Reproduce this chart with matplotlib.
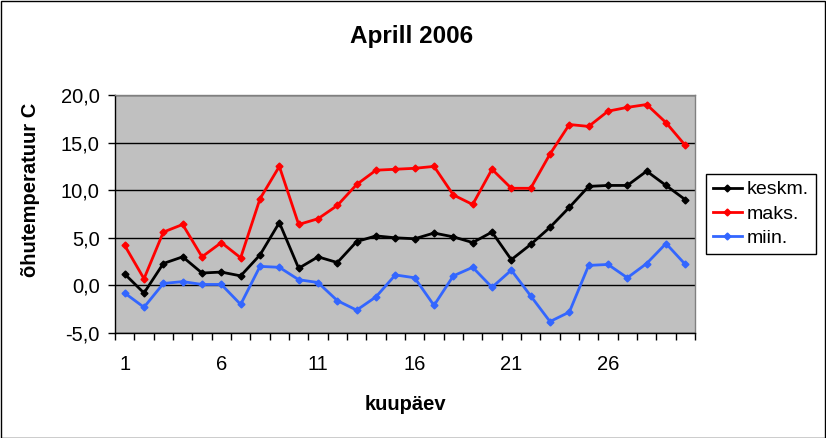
import matplotlib
matplotlib.use("Agg")
import matplotlib.pyplot as plt
from matplotlib.ticker import FixedLocator, NullFormatter, FuncFormatter
from matplotlib.patches import Rectangle

plt.rcParams['font.family'] = ['Liberation Sans', 'DejaVu Sans']

days = list(range(1, 31))
keskm = [1.2, -0.8, 2.3, 3.0, 1.3, 1.4, 1.0, 3.2, 6.6, 1.8, 3.0, 2.4, 4.6, 5.2, 5.0,
         4.9, 5.5, 5.1, 4.5, 5.6, 2.7, 4.3, 6.1, 8.2, 10.4, 10.5, 10.5, 12.0, 10.5, 9.0]
maks = [4.2, 0.7, 5.6, 6.4, 3.0, 4.5, 2.9, 9.1, 12.5, 6.4, 7.0, 8.4, 10.6, 12.1, 12.2,
        12.3, 12.5, 9.5, 8.5, 12.2, 10.2, 10.2, 13.8, 16.9, 16.7, 18.3, 18.7, 19.0, 17.1, 14.7]
miin = [-0.8, -2.3, 0.2, 0.4, 0.1, 0.1, -2.0, 2.0, 1.9, 0.6, 0.3, -1.6, -2.6, -1.2, 1.1,
        0.8, -2.1, 1.0, 1.9, -0.2, 1.6, -1.1, -3.8, -2.8, 2.1, 2.2, 0.8, 2.3, 4.4, 2.2]
series = [("keskm.", keskm, "#000000"), ("maks.", maks, "#FF0000"), ("miin.", miin, "#3366FF")]
yticks = [-5, 0, 5, 10, 15, 20]
xlabels = [1, 6, 11, 16, 21, 26]

fig = plt.figure(figsize=(8.26, 4.38), dpi=100)
W, H = 826, 438
ax = fig.add_axes([115 / W, 1 - 333 / H, 580 / W, 238 / H])
ax.set_facecolor("#C0C0C0")

for name, vals, col in series:
    ax.plot(days, vals, color=col, lw=2, marker="D", ms=3.5, label=name)

ax.set_xlim(0.5, 30.5)
ax.set_ylim(-5, 20)
ax.yaxis.set_major_locator(FixedLocator(yticks))
ax.yaxis.set_major_formatter(FuncFormatter(lambda v, p: f"{v:.1f}".replace(".", ",")))
ax.grid(axis="y", color="black", lw=1)
ax.set_axisbelow(True)

ax.xaxis.set_major_locator(FixedLocator([d + 0.5 for d in range(0, 31)]))
ax.xaxis.set_major_formatter(NullFormatter())
ax.xaxis.set_minor_locator(FixedLocator(xlabels))
ax.xaxis.set_minor_formatter(FuncFormatter(lambda v, p: f"{int(round(v))}"))
ax.tick_params(axis="x", which="major", length=5, width=1, direction="out", color="black")
ax.tick_params(axis="x", which="minor", length=0, labelsize=14.5, pad=16)
ax.tick_params(axis="y", length=5, width=1, direction="out", labelsize=14.5, pad=6)

for s in ["top", "right"]:
    ax.spines[s].set_color("#808080")
    ax.spines[s].set_linewidth(1)
for s in ["left", "bottom"]:
    ax.spines[s].set_color("black")
    ax.spines[s].set_linewidth(1)

fig.text(405 / W, 1 - 405 / H, "kuupäev", ha="center", va="center",
         fontsize=14.5, fontweight="bold")
fig.text(31 / W, 1 - 190 / H, "õhutemperatuur C", ha="center", va="center",
         rotation=90, fontsize=14.5, fontweight="bold")
fig.text(412 / W, 1 - 43 / H, "Aprill 2006", ha="center", va="baseline",
         fontsize=17.5, fontweight="bold")

leg = ax.legend(loc="center left", bbox_to_anchor=(706 / W, 1 - 214 / H),
                bbox_transform=fig.transFigure, fontsize=14, frameon=True,
                fancybox=False, edgecolor="black", framealpha=1,
                handlelength=1.5, handletextpad=0.25, borderpad=0.35,
                borderaxespad=0, labelspacing=0.35)
leg.get_frame().set_linewidth(1)

fig.patches.append(Rectangle((0.5 / W, 0.5 / H), 1 - 1.5 / W, 1 - 1.5 / H,
                             transform=fig.transFigure, fill=False,
                             edgecolor="black", lw=1))

fig.savefig("out.png", dpi=100)
